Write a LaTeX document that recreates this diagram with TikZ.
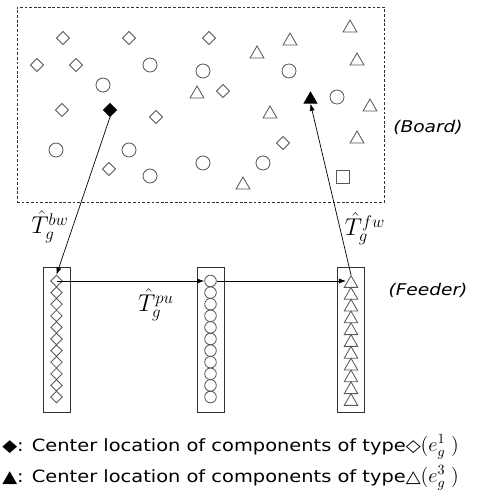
\documentclass[tikz,border=0pt]{standalone}
\usepackage{fontspec}
\usepackage{tikz}
\usetikzlibrary{arrows.meta,positioning,shapes.geometric}
\newfontfamily\legfont[FakeStretch=1.15]{DejaVu Sans}
\DeclareMathSizes{16}{16}{13}{9}
\DeclareMathSizes{14}{14}{10}{7}

\begin{document}
\begin{tikzpicture}[x=0.025cm,y=-0.025cm,
shp/.style={draw=black!65,line width=0.6pt,inner sep=0pt},
dia/.style={shp,diamond,minimum size=3.3mm},
circ/.style={shp,circle,minimum size=3.5mm},
tri/.style={shp,regular polygon,regular polygon sides=3,minimum size=4mm},
sqr/.style={shp,rectangle,minimum size=3.2mm},
fdia/.style={shp,diamond,minimum size=2.93mm},
fcirc/.style={shp,circle,minimum size=2.9mm},
ftri/.style={shp,regular polygon,regular polygon sides=3,minimum size=3.9mm},
board/.style={draw=black!80,dash pattern=on 2pt off 1.3pt,line width=0.5pt,minimum width=91.75mm,minimum height=48.75mm,inner sep=0pt},
feeder/.style={draw=black!80,line width=0.5pt,minimum width=6.75mm,minimum height=36.25mm,inner sep=0pt},
arr/.style={-{Latex[length=1.8mm,width=1.3mm]},line width=0.5pt},
tlbl/.style={font=\fontsize{16}{18}\selectfont,inner sep=0pt},
tag/.style={font=\legfont\itshape\fontsize{11.5}{14}\selectfont,inner sep=0pt},
leg/.style={font=\legfont\fontsize{12}{13}\selectfont,anchor=west,inner sep=0pt}
]
\useasboundingbox (0,0) rectangle (481,501);

\node[board] (board) at (200.5,104.5) {};
\node[tag] (brdtag) at (428,127) {(Board)};

\foreach \px/\py [count=\i] in {63/38,129/38,209/38,37/65,76/65,223/91,62/110,156/117,283/143,109/169}
  \node[dia] (bd\i) at (\px,\py) {};
\foreach \px/\py [count=\i] in {150/65,103/85,203/71,289/71,337/97,56/150,129/150,150/176,203/163,263/163}
  \node[circ] (bc\i) at (\px,\py) {};
\foreach \px/\py [count=\i] in {350/28,290/41,257/54,357/61,197/94,270/114,370/107,357/139,243/185}
  \node[tri] (bt\i) at (\px,\py) {};
\node[sqr] (bs1) at (343,177) {};
\node[dia,fill=black,draw=black] (bdF) at (110,110) {};
\node[tri,fill=black,draw=black,minimum size=3.7mm] (btF) at (310.5,99.5) {};

\node[feeder] (fdA) at (56.5,339.5) {};
\node[feeder] (fdB) at (210.5,339.5) {};
\node[feeder] (fdC) at (351,339.5) {};
\node[tag] (fdrtag) at (428,290) {(Feeder)};
\foreach \i in {1,...,11} {
  \node[fdia] (fd\i) at (56.5,{281+11.6*(\i-1)}) {};
  \node[fcirc] (fc\i) at (210.5,{281+11.6*(\i-1)}) {};
  \node[ftri] (ft\i) at (351,{283.5+11.8*(\i-1)}) {};
}

\draw[arr] (bdF.south) -- (fd1.north);
\draw[arr] (ft1.north) -- (btF.south);
\draw[arr] (fd1.center) -- (fc1);
\draw[arr] (fc1) -- (ft1.west |- fc1);

\node[tlbl] (tbw) at (50,227) {$\hat{T}_g^{bw}$};
\node[tlbl] (tfw) at (365,229) {$\hat{T}_g^{fw}$};
\node[tlbl] (tpu) at (156,305) {$\hat{T}_g^{pu}$};

\node[leg] (leg1) at (2,447) {◆: Center location of components of type◇{\fontsize{14}{15}\selectfont$(e_g^1\;)$}};
\node[leg] (leg2) at (2,478) {▲: Center location of components of type△{\fontsize{14}{15}\selectfont$(e_g^3\;)$}};
\end{tikzpicture}
\end{document}
